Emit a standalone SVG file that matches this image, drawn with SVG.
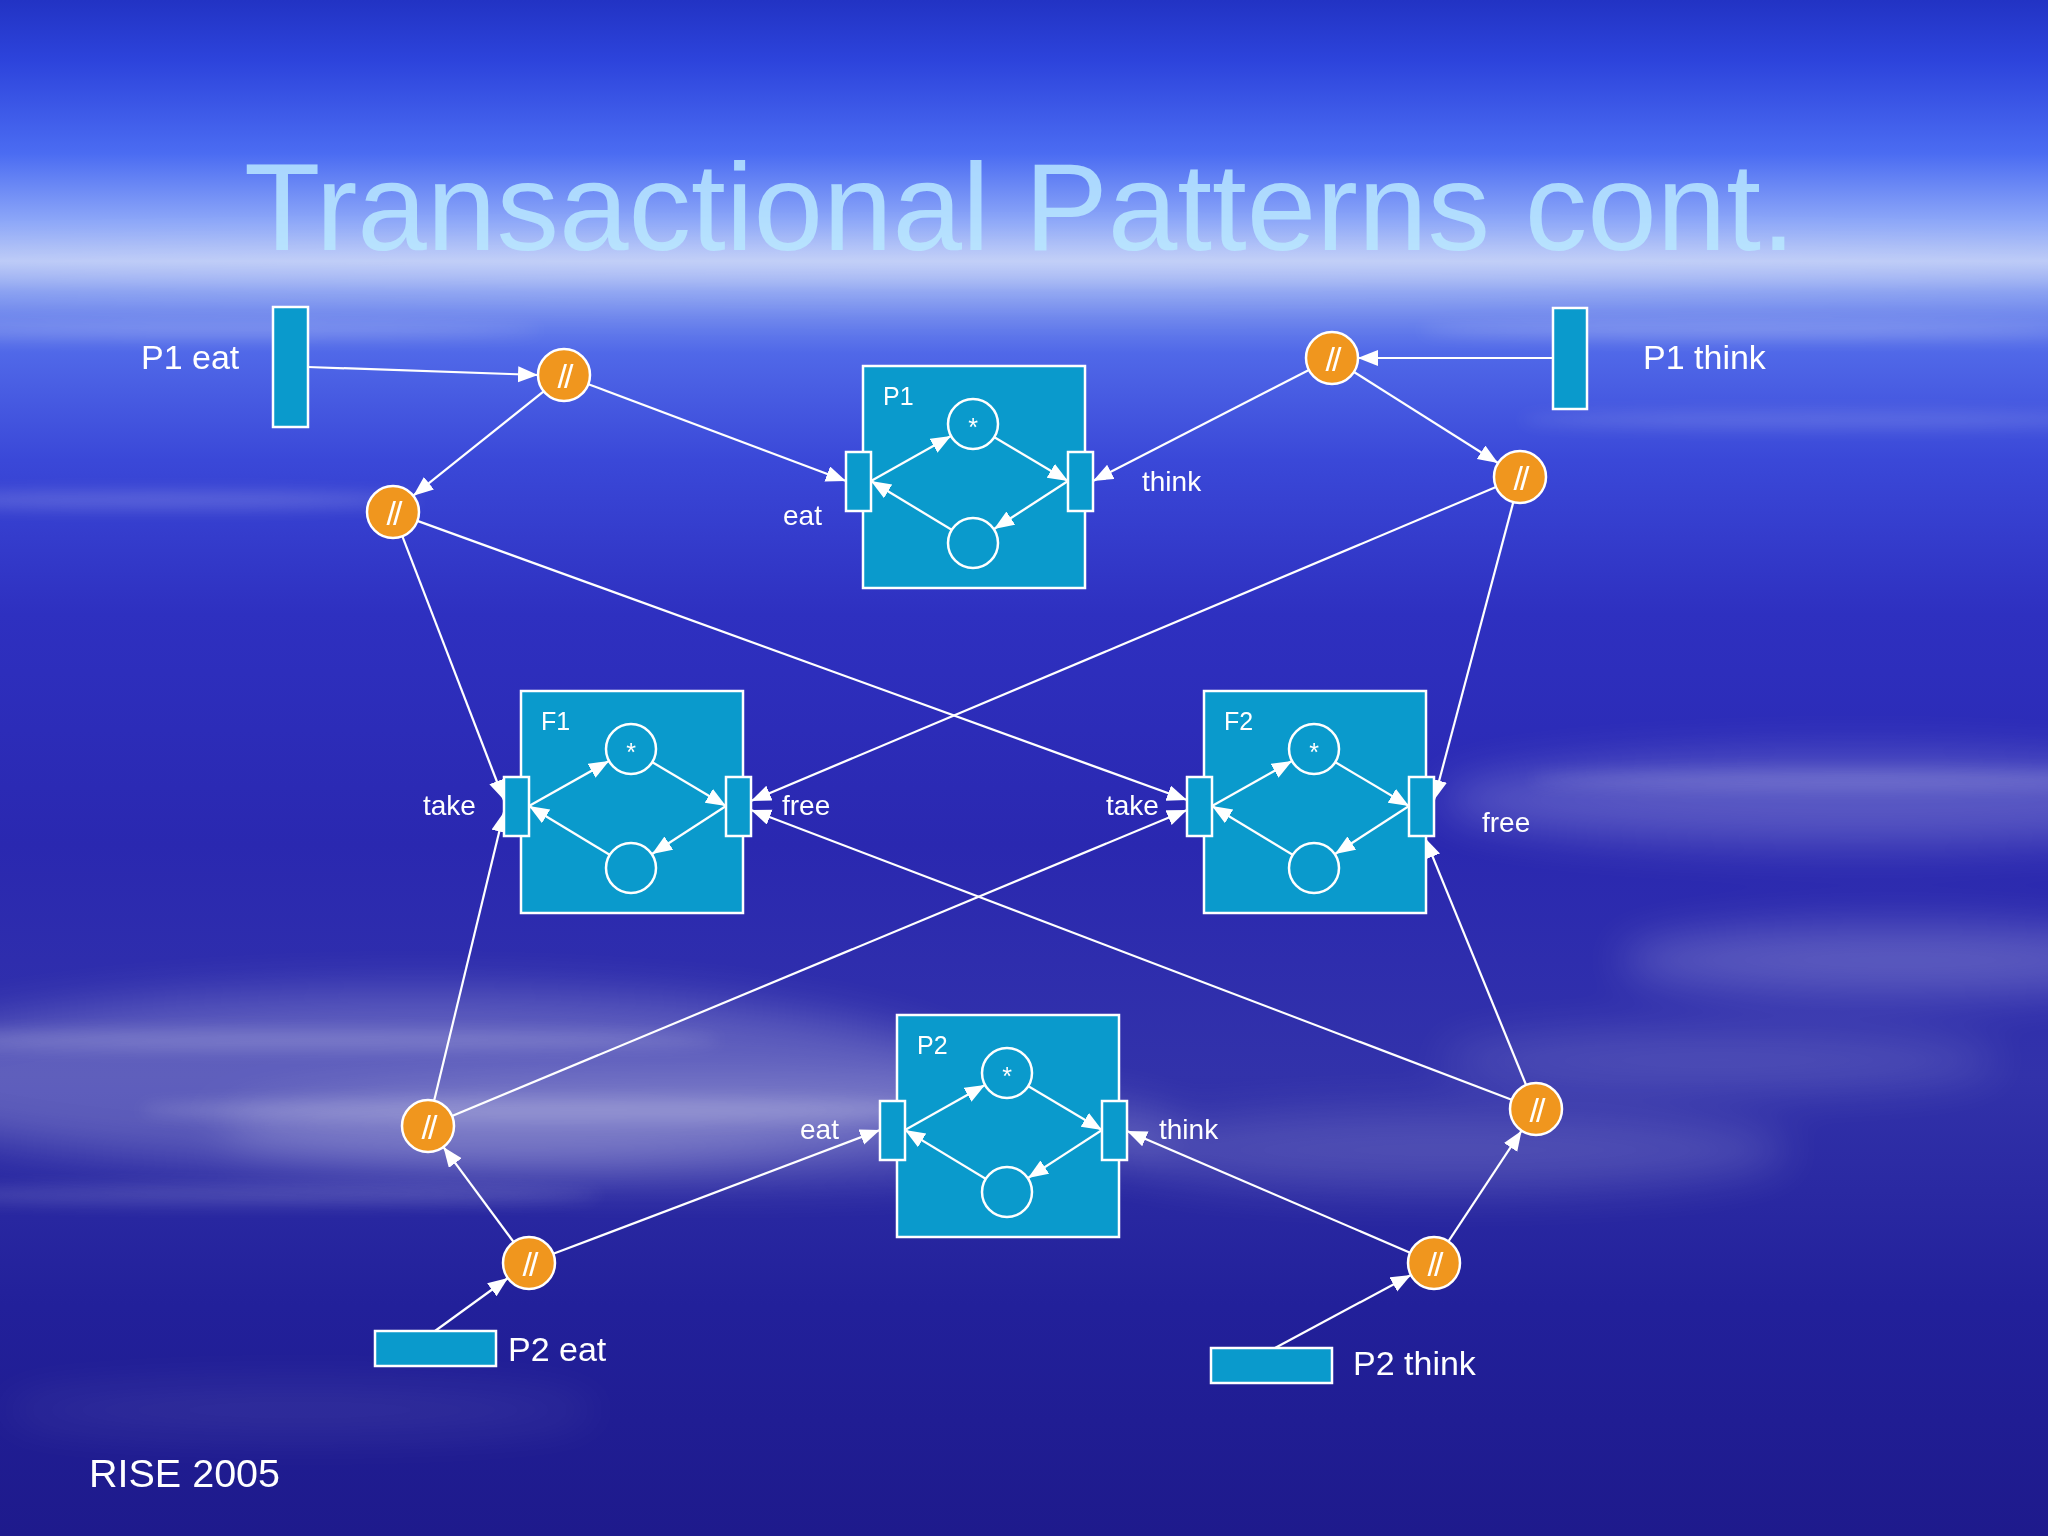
<svg xmlns="http://www.w3.org/2000/svg" width="2048" height="1536" viewBox="0 0 2048 1536">
<defs>
<linearGradient id="bg" x1="0" y1="0" x2="0" y2="1">
<stop offset="0" stop-color="#2233c4"/>
<stop offset="0.04" stop-color="#2d44dc"/>
<stop offset="0.10" stop-color="#4b6cf2"/>
<stop offset="0.145" stop-color="#8ea8f8"/>
<stop offset="0.17" stop-color="#b4c4f6"/>
<stop offset="0.19" stop-color="#7f98f0"/>
<stop offset="0.23" stop-color="#5068e8"/>
<stop offset="0.30" stop-color="#3a48d8"/>
<stop offset="0.40" stop-color="#2e30c0"/>
<stop offset="0.55" stop-color="#2a28b0"/>
<stop offset="0.70" stop-color="#3232aa"/>
<stop offset="0.85" stop-color="#22209a"/>
<stop offset="1" stop-color="#1e1a8c"/>
</linearGradient>
<filter id="blur" x="-50%" y="-300%" width="200%" height="700%">
<feGaussianBlur stdDeviation="22"/>
</filter>
<filter id="blur2" x="-50%" y="-300%" width="200%" height="700%">
<feGaussianBlur stdDeviation="8"/>
</filter>
<marker id="ah" markerUnits="userSpaceOnUse" markerWidth="22" markerHeight="18" refX="20" refY="8" orient="auto">
<path d="M0,0 L20,8 L0,16 z" fill="#ffffff"/>
</marker>
<style>
.box{fill:#0a9acc;stroke:#ffffff;stroke-width:2.5}
.tr{fill:#0a9acc;stroke:#ffffff;stroke-width:2.5}
.pl{fill:none;stroke:#ffffff;stroke-width:2.5}
.par{fill:#f0961e;stroke:#ffffff;stroke-width:2.5}
.ln{fill:none;stroke:#ffffff;stroke-width:2.2;marker-end:url(#ah)}
.lt{fill:#ffffff;font-family:"Liberation Sans",Arial,sans-serif}
.big{font-size:34px}
.sm{font-size:28px}
.bl{font-size:25px}
.sl{font-size:34px;text-anchor:middle;letter-spacing:-3px}
.st{font-size:25px;text-anchor:middle}
</style>
</defs>

<g id="background">
<rect x="0" y="0" width="2048" height="1536" fill="url(#bg)"/>
<g filter="url(#blur)" fill="#ffffff">
<ellipse cx="1024" cy="272" rx="1250" ry="22" opacity="0.3"/>
<ellipse cx="1860" cy="800" rx="420" ry="45" opacity="0.22"/>
<ellipse cx="1900" cy="960" rx="280" ry="35" opacity="0.22"/>
<ellipse cx="420" cy="1080" rx="560" ry="90" opacity="0.22"/>
<ellipse cx="700" cy="1130" rx="480" ry="50" opacity="0.2"/>
<ellipse cx="1450" cy="1150" rx="340" ry="40" opacity="0.16"/>
<ellipse cx="1720" cy="1060" rx="280" ry="30" opacity="0.14"/>
<ellipse cx="300" cy="1410" rx="300" ry="25" opacity="0.08"/>
</g>
<g filter="url(#blur2)" fill="#ffffff">
<ellipse cx="220" cy="330" rx="320" ry="6" opacity="0.22"/>
<ellipse cx="1750" cy="330" rx="330" ry="7" opacity="0.22"/>
<ellipse cx="160" cy="500" rx="260" ry="8" opacity="0.2"/>
<ellipse cx="1820" cy="420" rx="300" ry="8" opacity="0.15"/>
<ellipse cx="300" cy="1040" rx="420" ry="10" opacity="0.18"/>
<ellipse cx="560" cy="1110" rx="420" ry="12" opacity="0.18"/>
<ellipse cx="260" cy="1195" rx="340" ry="10" opacity="0.15"/>
<ellipse cx="1850" cy="780" rx="320" ry="10" opacity="0.15"/>
</g>
</g>

<text id="title" x="244" y="250" font-family="'Liberation Sans',Arial,sans-serif" font-size="125" fill="#b8e8ff" fill-opacity="0.85">Transactional Patterns cont.</text>

<g id="connectors">
<path class="ln" d="M308,367 L538,375"/>
<path class="ln" d="M543.7,391.3 L413.3,495.7"/>
<path class="ln" d="M588.4,384.2 L846,481"/>
<path class="ln" d="M1553,358 L1358,358"/>
<path class="ln" d="M1354,372 L1498,463"/>
<path class="ln" d="M1308.9,369.9 L1093,481"/>
<path class="ln" d="M402.4,536.3 L504,800"/>
<path class="ln" d="M417.4,520.9 L1187,800"/>
<path class="ln" d="M1496,487.1 L751,801"/>
<path class="ln" d="M1513.3,502.1 L1434,800"/>
<path class="ln" d="M435,1331 L508,1278"/>
<path class="ln" d="M513.6,1242 L443.4,1147"/>
<path class="ln" d="M553.3,1253.8 L880,1130"/>
<path class="ln" d="M434.1,1100.7 L504,812"/>
<path class="ln" d="M452,1116 L1187,810"/>
<path class="ln" d="M1275,1348 L1411,1275"/>
<path class="ln" d="M1448.4,1241.3 L1521.6,1130.7"/>
<path class="ln" d="M1410.1,1252.7 L1127,1131"/>
<path class="ln" d="M1511.7,1099.7 L751,810"/>
<path class="ln" d="M1526.1,1085 L1425,838"/>
</g>

<g id="P1">
<rect class="box" x="863" y="366" width="222" height="222"/>
<text class="lt bl" x="883" y="405">P1</text>
<circle class="pl" cx="973" cy="424" r="25"/>
<text class="lt st" x="973" y="436">*</text>
<circle class="pl" cx="973" cy="543" r="25"/>
<path class="ln" d="M871,481 L951,436"/>
<path class="ln" d="M994,437 L1068,481"/>
<path class="ln" d="M1068,481 L994,529"/>
<path class="ln" d="M952,530 L871,481"/>
<rect class="tr" x="846" y="452" width="25" height="59"/>
<rect class="tr" x="1068" y="452" width="25" height="59"/>
<text class="lt sm" x="783" y="525">eat</text>
<text class="lt sm" x="1142" y="491">think</text>
</g>

<g id="F1">
<rect class="box" x="521" y="691" width="222" height="222"/>
<text class="lt bl" x="541" y="730">F1</text>
<circle class="pl" cx="631" cy="749" r="25"/>
<text class="lt st" x="631" y="761">*</text>
<circle class="pl" cx="631" cy="868" r="25"/>
<path class="ln" d="M529,806 L609,761"/>
<path class="ln" d="M652,762 L726,806"/>
<path class="ln" d="M726,806 L652,854"/>
<path class="ln" d="M610,855 L529,806"/>
<rect class="tr" x="504" y="777" width="25" height="59"/>
<rect class="tr" x="726" y="777" width="25" height="59"/>
<text class="lt sm" x="423" y="815">take</text>
<text class="lt sm" x="782" y="815">free</text>
</g>

<g id="F2">
<rect class="box" x="1204" y="691" width="222" height="222"/>
<text class="lt bl" x="1224" y="730">F2</text>
<circle class="pl" cx="1314" cy="749" r="25"/>
<text class="lt st" x="1314" y="761">*</text>
<circle class="pl" cx="1314" cy="868" r="25"/>
<path class="ln" d="M1212,806 L1292,761"/>
<path class="ln" d="M1335,762 L1409,806"/>
<path class="ln" d="M1409,806 L1335,854"/>
<path class="ln" d="M1293,855 L1212,806"/>
<rect class="tr" x="1187" y="777" width="25" height="59"/>
<rect class="tr" x="1409" y="777" width="25" height="59"/>
<text class="lt sm" x="1106" y="815">take</text>
<text class="lt sm" x="1482" y="832">free</text>
</g>

<g id="P2">
<rect class="box" x="897" y="1015" width="222" height="222"/>
<text class="lt bl" x="917" y="1054">P2</text>
<circle class="pl" cx="1007" cy="1073" r="25"/>
<text class="lt st" x="1007" y="1085">*</text>
<circle class="pl" cx="1007" cy="1192" r="25"/>
<path class="ln" d="M905,1130 L985,1085"/>
<path class="ln" d="M1028,1086 L1102,1130"/>
<path class="ln" d="M1102,1130 L1028,1178"/>
<path class="ln" d="M986,1179 L905,1130"/>
<rect class="tr" x="880" y="1101" width="25" height="59"/>
<rect class="tr" x="1102" y="1101" width="25" height="59"/>
<text class="lt sm" x="800" y="1139">eat</text>
<text class="lt sm" x="1159" y="1139">think</text>
</g>

<g id="P1eat">
<rect class="tr" x="273" y="307" width="35" height="120"/>
<text class="lt big" x="141" y="369">P1 eat</text>
</g>
<g id="P1think">
<rect class="tr" x="1553" y="308" width="34" height="101"/>
<text class="lt big" x="1643" y="369">P1 think</text>
</g>
<g id="P2eat">
<rect class="tr" x="375" y="1331" width="121" height="35"/>
<text class="lt big" x="508" y="1361">P2 eat</text>
</g>
<g id="P2think">
<rect class="tr" x="1211" y="1348" width="121" height="35"/>
<text class="lt big" x="1353" y="1375">P2 think</text>
</g>

<g id="par1"><circle class="par" cx="564" cy="375" r="26"/><text class="lt sl" x="564" y="388">//</text></g>
<g id="par2"><circle class="par" cx="393" cy="512" r="26"/><text class="lt sl" x="393" y="525">//</text></g>
<g id="par3"><circle class="par" cx="1332" cy="358" r="26"/><text class="lt sl" x="1332" y="371">//</text></g>
<g id="par4"><circle class="par" cx="1520" cy="477" r="26"/><text class="lt sl" x="1520" y="490">//</text></g>
<g id="par5"><circle class="par" cx="428" cy="1126" r="26"/><text class="lt sl" x="428" y="1139">//</text></g>
<g id="par6"><circle class="par" cx="529" cy="1263" r="26"/><text class="lt sl" x="529" y="1276">//</text></g>
<g id="par7"><circle class="par" cx="1536" cy="1109" r="26"/><text class="lt sl" x="1536" y="1122">//</text></g>
<g id="par8"><circle class="par" cx="1434" cy="1263" r="26"/><text class="lt sl" x="1434" y="1276">//</text></g>

<text id="footer" class="lt" x="89" y="1487" font-size="39.5">RISE 2005</text>
</svg>
